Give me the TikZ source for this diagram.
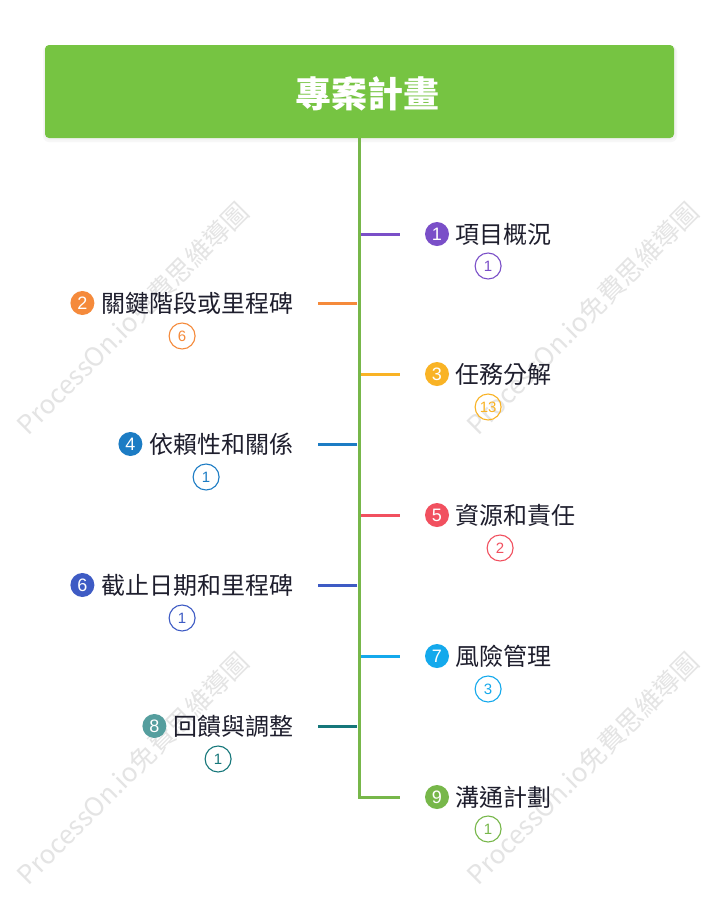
\documentclass[tikz,border=0pt]{standalone}
\usepackage{fontspec}
\setmainfont{Noto Sans CJK TC}
\newfontfamily\numfont{Liberation Sans}
\usetikzlibrary{calc}
\definecolor{rootg}{HTML}{76C442}
\definecolor{ca}{HTML}{7A4FC8}
\definecolor{cb}{HTML}{F58A3B}
\definecolor{cc}{HTML}{F9B325}
\definecolor{cd}{HTML}{1C7CC4}
\definecolor{ce}{HTML}{F1505F}
\definecolor{cf}{HTML}{3E5BC4}
\definecolor{cg}{HTML}{14A9EC}
\definecolor{ch}{HTML}{16777A}
\definecolor{chl}{HTML}{559E9E}
\definecolor{ci}{HTML}{77B74A}
\definecolor{txt}{HTML}{1E1E2D}
\definecolor{wm}{HTML}{E4E4E4}
\tikzset{
  numc/.style={circle, fill=#1, minimum size=24pt, inner sep=0pt, text=white, font=\numfont\fontsize{18}{18}\selectfont},
  lbl/.style={inner sep=0pt, text=txt, font=\fontsize{24}{28}\selectfont},
  cnt/.style={circle, draw=#1, line width=1.1pt, minimum size=26pt, inner sep=0pt, text=#1, font=\numfont\fontsize{15}{15}\selectfont},
  branch/.style={draw=#1, line width=3pt},
  wmark/.style={text=wm, rotate=45, font=\fontsize{26}{26}\selectfont, inner sep=0pt}
}
\begin{document}
\begin{tikzpicture}[x=1pt,y=-1pt]
\useasboundingbox (0,0) rectangle (720,906);
\fill[white] (0,0) rectangle (720,906);
% watermarks
\node[wmark] (w1) at (133,318) {ProcessOn.io免費思維導圖};
\node[wmark] (w2) at (583,318) {ProcessOn.io免費思維導圖};
\node[wmark] (w3) at (133,768) {ProcessOn.io免費思維導圖};
\node[wmark] (w4) at (583,768) {ProcessOn.io免費思維導圖};
% root
\fill[black!3, rounded corners=6pt] (43,46) rectangle (677,142);
\fill[black!5, rounded corners=5pt] (44,46) rectangle (676,140);
\node[fill=rootg, rounded corners=4pt, minimum width=629pt, minimum height=93pt, inner sep=0pt] (root) at (359.5,91.5) {};
\node[text=white, inner sep=0pt, font=\fontsize{36}{40}\selectfont\bfseries] (title) at (367,94) {專案計畫};
% trunk
\coordinate (tend) at (359,797);
\draw[draw=ci, line width=3pt] (root.south -| tend) -- (tend) -- (400,797) coordinate (b9);
% branches
\coordinate (a1) at (359,234); \coordinate (a2) at (359,303); \coordinate (a3) at (359,374);
\coordinate (a4) at (359,444); \coordinate (a5) at (359,515); \coordinate (a6) at (359,585);
\coordinate (a7) at (359,656); \coordinate (a8) at (359,726);
\draw[branch=ca] ($(a1)+(2,0)$) -- ++(39,0) coordinate (b1);
\draw[branch=cb] ($(a2)+(-2,0)$) -- ++(-39,0) coordinate (b2);
\draw[branch=cc] ($(a3)+(2,0)$) -- ++(39,0) coordinate (b3);
\draw[branch=cd] ($(a4)+(-2,0)$) -- ++(-39,0) coordinate (b4);
\draw[branch=ce] ($(a5)+(2,0)$) -- ++(39,0) coordinate (b5);
\draw[branch=cf] ($(a6)+(-2,0)$) -- ++(-39,0) coordinate (b6);
\draw[branch=cg] ($(a7)+(2,0)$) -- ++(39,0) coordinate (b7);
\draw[branch=ch] ($(a8)+(-2,0)$) -- ++(-39,0) coordinate (b8);
% right items
\node[numc=ca] (n1) at (437,234) {1};
\node[lbl, anchor=west] (t1) at (455,234) {項目概況};
\node[cnt=ca] (k1) at ($(n1.west)!0.5!(t1.east)+(0,32)$) {1};
\node[numc=cc] (n3) at (437,374) {3};
\node[lbl, anchor=west] (t3) at (455,374) {任務分解};
\node[cnt=cc] (k3) at ($(n3.west)!0.5!(t3.east)+(0,33)$) {13};
\node[numc=ce] (n5) at (437,515) {5};
\node[lbl, anchor=west] (t5) at (455,515) {資源和責任};
\node[cnt=ce] (k5) at ($(n5.west)!0.5!(t5.east)+(0,33)$) {2};
\node[numc=cg] (n7) at (437,656) {7};
\node[lbl, anchor=west] (t7) at (455,656) {風險管理};
\node[cnt=cg] (k7) at ($(n7.west)!0.5!(t7.east)+(0,33)$) {3};
\node[numc=ci] (n9) at (437,797) {9};
\node[lbl, anchor=west] (t9) at (455,797) {溝通計劃};
\node[cnt=ci] (k9) at ($(n9.west)!0.5!(t9.east)+(0,32)$) {1};
% left items
\node[lbl, anchor=east] (t2) at (294,303) {關鍵階段或里程碑};
\node[numc=cb, anchor=east] (n2) at ($(t2.west)+(-7,0)$) {2};
\node[cnt=cb] (k2) at ($(n2.west)!0.5!(t2.east)+(0,33)$) {6};
\node[lbl, anchor=east] (t4) at (294,444) {依賴性和關係};
\node[numc=cd, anchor=east] (n4) at ($(t4.west)+(-7,0)$) {4};
\node[cnt=cd] (k4) at ($(n4.west)!0.5!(t4.east)+(0,33)$) {1};
\node[lbl, anchor=east] (t6) at (294,585) {截止日期和里程碑};
\node[numc=cf, anchor=east] (n6) at ($(t6.west)+(-7,0)$) {6};
\node[cnt=cf] (k6) at ($(n6.west)!0.5!(t6.east)+(0,33)$) {1};
\node[lbl, anchor=east] (t8) at (294,726) {回饋與調整};
\node[numc=chl, anchor=east] (n8) at ($(t8.west)+(-7,0)$) {8};
\node[cnt=ch] (k8) at ($(n8.west)!0.5!(t8.east)+(0,33)$) {1};
\end{tikzpicture}
\end{document}
